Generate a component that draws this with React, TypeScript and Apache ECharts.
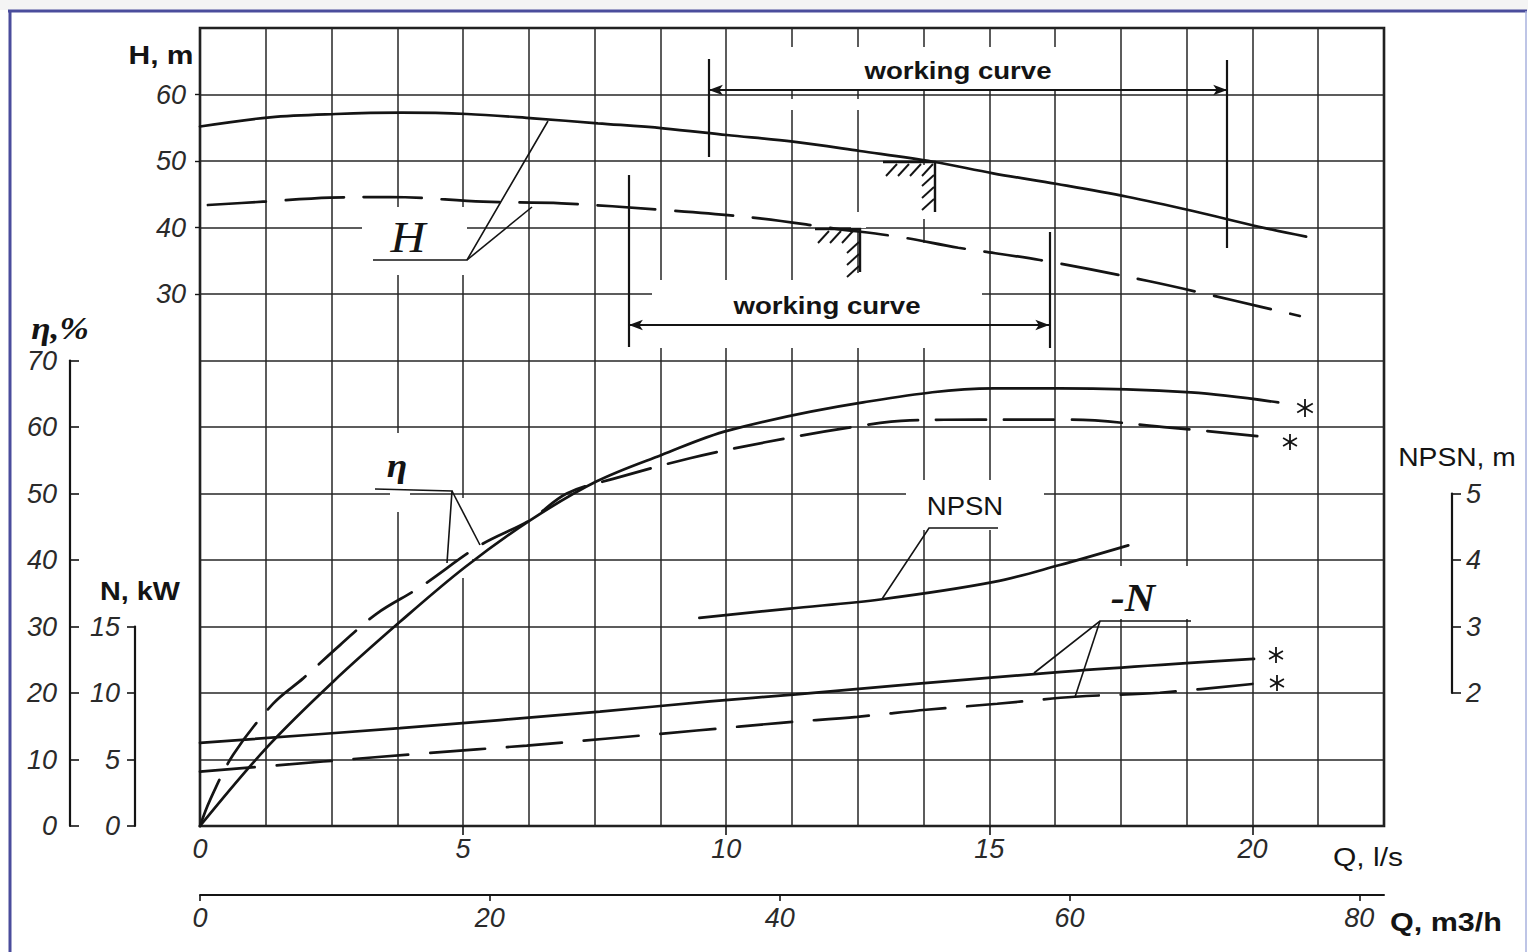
import React, { useEffect, useRef } from "react";
import * as echarts from "echarts";

// ---------- axes ----------
const qLsMax = 22.5; // l/s at the right edge of the grid
const qLsGridStep = 1.25;
const qLsLabels = [0, 5, 10, 15, 20];
const qLsTicks = [5, 10, 15, 20];
const qM3hMax = 81.7;
const qM3hLabels = [0, 20, 40, 60, 80];
const hLabels = [30, 40, 50, 60];
const etaLabels = [0, 10, 20, 30, 40, 50, 60, 70];
const nLabels = [0, 5, 10, 15];
const npsnLabels = [2, 3, 4, 5];

// ---------- H, m ----------
const hSolidQ = [0, 1.33, 2.58, 3.83, 5.07, 6.33, 7.56, 8.8, 10.01, 11.27, 12.54, 13.93, 15.07, 16.29, 17.62, 18.87, 20.12, 21.02];
const hSolidH = [55.19, 56.57, 57.07, 57.26, 57.07, 56.42, 55.67, 54.92, 53.91, 52.9, 51.5, 49.89, 48.15, 46.54, 44.63, 42.48, 40.12, 38.62];
const hDashQ = [0.15, 1.2, 2.47, 3.61, 5.38, 6.87, 8.8, 10.64, 12.03, 13.3, 14.41, 15.96, 18.02, 19.69, 20.9];
const hDashH = [43.38, 43.88, 44.48, 44.59, 43.88, 43.64, 42.63, 41.38, 39.88, 38.57, 36.96, 35.11, 31.95, 28.95, 26.69];

// ---------- efficiency, % ----------
const etaSolidQ = [0, 1.28, 2.53, 3.8, 5.04, 6.28, 7.53, 8.77, 10.05, 12.6, 15.09, 16.32, 18.83, 20.49];
const etaSolidV = [0, 11.9, 21.7, 30.7, 38.95, 46.0, 51.8, 55.8, 59.5, 63.7, 65.8, 65.8, 65.2, 63.7];
const etaDashQ = [0, 0.19, 0.63, 1.39, 1.96, 2.66, 3.36, 4.18, 5.32, 6.27, 6.97, 7.85, 9.31, 10.74, 12.33, 13.49, 14.8, 16.51, 18.43, 20.11];
const etaDashV = [0, 3.9, 10.7, 18.4, 22.2, 27.2, 31.95, 35.9, 42.2, 46.0, 50.0, 52.2, 55.3, 57.7, 59.9, 61.0, 61.1, 61.1, 59.9, 58.6];

// ---------- power N, kW ----------
const nSolidQ = [0, 3.8, 7.6, 9.69, 11.33, 16.08, 20.03];
const nSolidV = [6.25, 7.36, 8.6, 9.37, 9.9, 11.5, 12.56];
const nDashQ = [0, 2.34, 4.31, 6.21, 7.7, 9.44, 11.04, 12.49, 13.8, 15.15, 16.63, 18.24, 20.24];
const nDashV = [4.09, 4.85, 5.48, 6.05, 6.56, 7.18, 7.76, 8.21, 8.74, 9.19, 9.72, 10.02, 10.78];

// ---------- NPSH, m ----------
const npsnQ = [9.49, 11.21, 12.96, 15.09, 16.32, 17.64];
const npsnV = [3.13, 3.27, 3.41, 3.67, 3.92, 4.22];

// ---------- working ranges (Q, l/s) and marker extents (H, m) ----------
const workUpperQ = [9.67, 19.52];
const workUpperMarkH = [[65.34, 50.6], [65.19, 36.92]];
const workUpperArrowH = 60.68;
const workLowerQ = [8.15, 16.14];
const workLowerMarkH = [[47.89, 22.03], [39.32, 21.88]];
const workLowerArrowH = 25.34;

const zip = (a: number[], b: number[]) => a.map((x, i) => [x, b[i]]);

const INK = "#141414";
const HAND = '"Liberation Sans Narrow", "Liberation Sans", "DejaVu Sans", sans-serif';
const SANS = '"Liberation Sans", Arial, sans-serif';
const SERIF = '"Liberation Serif", "DejaVu Serif", serif';

const handLabel = {
  fontFamily: HAND,
  fontStyle: "italic" as const,
  fontSize: 27,
  color: "#2a2a2a",
};

function txt(x: number, y: number, text: string, font: string, sx = 1, align = "center") {
  return {
    type: "text",
    x,
    y,
    z: 30,
    scaleX: sx,
    style: {
      text,
      font,
      fill: INK,
      textAlign: align,
      textVerticalAlign: "middle",
      align,
      verticalAlign: "middle",
    },
  };
}
function ln(points: number[][], w = 1.6, color = INK) {
  return { type: "polyline", z: 30, shape: { points }, style: { stroke: color, lineWidth: w, fill: "none" } };
}
function eraser(x1: number, y1: number, x2: number, y2: number) {
  return { type: "rect", z: 1, shape: { x: x1, y: y1, width: x2 - x1, height: y2 - y1 }, style: { fill: "#ffffff" } };
}
function star(cx: number, cy: number, r: number) {
  return [0, 60, 120].map((a) => {
    const t = (a * Math.PI) / 180;
    const dx = r * Math.sin(t);
    const dy = r * Math.cos(t);
    return ln([[cx - dx, cy - dy], [cx + dx, cy + dy]], 1.8);
  });
}
function hatch(cx: number, cy: number, hLen: number, vLen: number) {
  const els: any[] = [ln([[cx - hLen, cy], [cx, cy], [cx, cy + vLen]], 2.4)];
  for (let x = cx - hLen + 3; x < cx - 8; x += 12) els.push(ln([[x, cy + 14], [x + 11, cy + 2]], 1.9));
  for (let y = cy + 14; y < cy + vLen; y += 12) els.push(ln([[cx - 13, y + 10], [cx - 1, y - 1]], 1.9));
  return els;
}

const hiddenX = (gridIndex: number) => ({
  type: "value",
  gridIndex,
  min: 0,
  max: qLsMax,
  show: false,
});

const curve = (name: string, data: number[][], xi: number, yi: number, dashed: boolean | number[], extra: any = {}) => ({
  name,
  type: "line",
  xAxisIndex: xi,
  yAxisIndex: yi,
  data,
  smooth: 0.35,
  symbol: "none",
  clip: false,
  z: 3,
  lineStyle: { color: INK, width: 2.7, type: dashed === false ? "solid" : dashed, cap: "round" },
  ...extra,
});

const mk = (q: number, h1: number, h2: number) => [
  { coord: [q, h1], symbol: "none" },
  { coord: [q, h2], symbol: "none" },
];
const arrow = (q1: number, q2: number, h: number) => [
  { coord: [q1, h], symbol: "arrow", symbolSize: [8, 14] },
  { coord: [q2, h], symbol: "arrow", symbolSize: [8, 14] },
];

const graphics: any[] = [
  // page frame
  { type: "rect", z: 0, shape: { x: 0, y: 0, width: 1528, height: 10 }, style: { fill: "#f4f4f4" } },
  ln([[8, 11], [1527, 11]], 3, "#4a4d9c"),
  ln([[10, 11], [10, 952]], 3, "#4a4d9c"),
  ln([[1526, 11], [1526, 952]], 1.5, "#a9b2de"),
  // erasers behind labels (grid lines interrupted)
  eraser(785, 47, 1062, 89),
  eraser(785, 99, 868, 110),
  eraser(652, 280, 982, 348),
  eraser(362, 207, 467, 275),
  eraser(378, 433, 455, 487),
  eraser(390, 487, 410, 512),
  eraser(458, 498, 472, 578),
  eraser(906, 480, 1044, 530),
  eraser(1098, 566, 1192, 619),
  eraser(917, 165, 931, 219),
  eraser(917, 243, 931, 282),
  eraser(851, 212, 866, 228),
  eraser(851, 273, 866, 282),
  // axis titles
  txt(161, 55, "H, m", `bold 25px ${SANS}`, 1.2),
  txt(60, 328, "η,%", `bold italic 32px ${SERIF}`, 1.1),
  txt(140, 592, "N, kW", `bold 25px ${SANS}`, 1.15),
  txt(1457, 458, "NPSN, m", `25px ${SANS}`, 1.13),
  txt(1368, 857, "Q, l/s", `25px ${SANS}`, 1.2),
  txt(1446, 922, "Q, m3/h", `bold 25px ${SANS}`, 1.22),
  // working curve labels
  txt(958, 71, "working curve", `bold 23px ${SANS}`, 1.2),
  txt(827, 306, "working curve", `bold 23px ${SANS}`, 1.2),
  // curve labels and leaders
  txt(408, 237, "H", `italic 44px ${SERIF}`, 1.1),
  ln([[373, 260], [467, 260], [548, 121]]),
  ln([[467, 260], [532, 207]]),
  txt(397, 466, "η", `bold italic 34px ${SERIF}`, 1.1),
  ln([[375, 489], [452, 491], [447, 563]]),
  ln([[452, 491], [480, 545]]),
  txt(965, 506, "NPSN", `25px ${SANS}`, 1.1),
  ln([[998, 528], [929, 528], [882, 599]]),
  txt(1133, 597, "-N", `bold italic 40px ${SERIF}`, 1.05),
  ln([[1191, 621], [1100, 621], [1034, 673]]),
  ln([[1100, 621], [1075, 697]]),
  // hatched limit marks
  ...hatch(935, 162, 52, 50),
  ...hatch(860, 229, 45, 43),
  // end-of-curve asterisks
  ...star(1305, 408, 9),
  ...star(1290, 442, 8),
  ...star(1276, 655, 8),
  ...star(1277, 683, 8),
];

const option: any = {
  animation: false,
  backgroundColor: "#ffffff",
  grid: [
    { left: 200, top: 28, width: 1184, height: 798, show: true, borderColor: "#151515", borderWidth: 2.6, backgroundColor: "transparent" },
    { left: 200, top: 28, width: 1184, height: 399 }, // H 70..10
    { left: 200, top: 360.5, width: 1184, height: 465.5 }, // eta 70..0
    { left: 200, top: 626.5, width: 1184, height: 199.5 }, // N 15..0
    { left: 200, top: 493.5, width: 1184, height: 199.5 }, // NPSN 5..2
  ],
  xAxis: [
    {
      type: "value", gridIndex: 0, min: 0, max: qLsMax, interval: qLsGridStep,
      axisLine: { show: false, onZero: false }, axisTick: { show: false }, axisLabel: { show: false },
      splitLine: { show: true, lineStyle: { color: "#262626", width: 1.5 } },
    },
    {
      type: "value", gridIndex: 0, min: 0, max: qLsMax, interval: 5, position: "bottom",
      axisLine: { show: false, onZero: false },
      axisTick: { show: true, length: 9, customValues: qLsTicks, lineStyle: { color: INK, width: 1.6 } },
      axisLabel: { ...handLabel, margin: 9, customValues: qLsLabels, formatter: (v: number) => (qLsLabels.includes(v) ? String(v) : "") },
      splitLine: { show: false },
    },
    {
      type: "value", gridIndex: 0, min: 0, max: qM3hMax, interval: 20, position: "bottom", offset: 69,
      axisLine: { show: true, onZero: false, lineStyle: { color: INK, width: 2 } },
      axisTick: { show: true, length: 6, customValues: qM3hLabels, lineStyle: { color: INK, width: 1.6 } },
      axisLabel: { ...handLabel, margin: 9, customValues: qM3hLabels, formatter: (v: number) => (qM3hLabels.includes(v) ? String(v) : "") },
      splitLine: { show: false },
    },
    hiddenX(1),
    hiddenX(2),
    hiddenX(3),
    hiddenX(4),
  ],
  yAxis: [
    {
      type: "value", gridIndex: 0, min: 0, max: 12, interval: 1,
      axisLine: { show: false, onZero: false }, axisTick: { show: false }, axisLabel: { show: false },
      splitLine: { show: true, lineStyle: { color: "#262626", width: 1.5 } },
    },
    {
      type: "value", gridIndex: 1, min: 10, max: 70, interval: 10,
      axisLine: { show: false, onZero: false },
      axisTick: { show: true, length: 5, customValues: hLabels, lineStyle: { color: INK, width: 1.4 } },
      axisLabel: { ...handLabel, margin: 14, customValues: hLabels, formatter: (v: number) => (hLabels.includes(v) ? String(v) : "") },
      splitLine: { show: false },
    },
    {
      type: "value", gridIndex: 2, min: 0, max: 70, interval: 10, offset: 130,
      axisLine: { show: true, onZero: false, lineStyle: { color: INK, width: 2.2 } },
      axisTick: { show: true, inside: true, length: 9, lineStyle: { color: INK, width: 1.6 } },
      axisLabel: { ...handLabel, margin: 13, formatter: (v: number) => (etaLabels.includes(v) ? String(v) : "") },
      splitLine: { show: false },
    },
    {
      type: "value", gridIndex: 3, min: 0, max: 15, interval: 5, offset: 65,
      axisLine: { show: true, onZero: false, lineStyle: { color: INK, width: 2.2 } },
      axisTick: { show: true, length: 8, lineStyle: { color: INK, width: 1.6 } },
      axisLabel: { ...handLabel, margin: 15, formatter: (v: number) => (nLabels.includes(v) ? String(v) : "") },
      splitLine: { show: false },
    },
    {
      type: "value", gridIndex: 4, min: 2, max: 5, interval: 1, position: "right", offset: 68,
      axisLine: { show: true, onZero: false, lineStyle: { color: INK, width: 2.2 } },
      axisTick: { show: true, length: 9, lineStyle: { color: INK, width: 1.6 } },
      axisLabel: { ...handLabel, margin: 14, formatter: (v: number) => (npsnLabels.includes(v) ? String(v) : "") },
      splitLine: { show: false },
    },
  ],
  series: [
    curve("H", zip(hSolidQ, hSolidH), 3, 1, false, {
      markLine: {
        silent: true,
        z: 4,
        symbol: ["none", "none"],
        label: { show: false },
        lineStyle: { color: INK, width: 2.2, type: "solid" },
        emphasis: { disabled: true },
        data: [
          mk(workUpperQ[0], workUpperMarkH[0][0], workUpperMarkH[0][1]),
          mk(workUpperQ[1], workUpperMarkH[1][0], workUpperMarkH[1][1]),
          arrow(workUpperQ[0], workUpperQ[1], workUpperArrowH),
          mk(workLowerQ[0], workLowerMarkH[0][0], workLowerMarkH[0][1]),
          mk(workLowerQ[1], workLowerMarkH[1][0], workLowerMarkH[1][1]),
          arrow(workLowerQ[0], workLowerQ[1], workLowerArrowH),
        ],
      },
    }),
    curve("H (reduced)", zip(hDashQ, hDashH), 3, 1, [58, 20]),
    curve("η", zip(etaSolidQ, etaSolidV), 4, 2, false),
    curve("η (reduced)", zip(etaDashQ, etaDashV), 4, 2, [50, 18]),
    curve("N", zip(nSolidQ, nSolidV), 5, 3, false),
    curve("N (reduced)", zip(nDashQ, nDashV), 5, 3, [55, 22]),
    curve("NPSN", zip(npsnQ, npsnV), 6, 4, false),
  ],
  graphic: { elements: graphics },
};

export default function App() {
  const ref = useRef<HTMLDivElement>(null);
  useEffect(() => {
    if (!ref.current) return;
    const chart = echarts.init(ref.current, null, { renderer: "svg" });
    chart.setOption(option);
    return () => chart.dispose();
  }, []);
  return (
    <div
      ref={ref}
      style={{ position: "fixed", left: 0, top: 0, width: 1528, height: 952, background: "#ffffff" }}
    />
  );
}
